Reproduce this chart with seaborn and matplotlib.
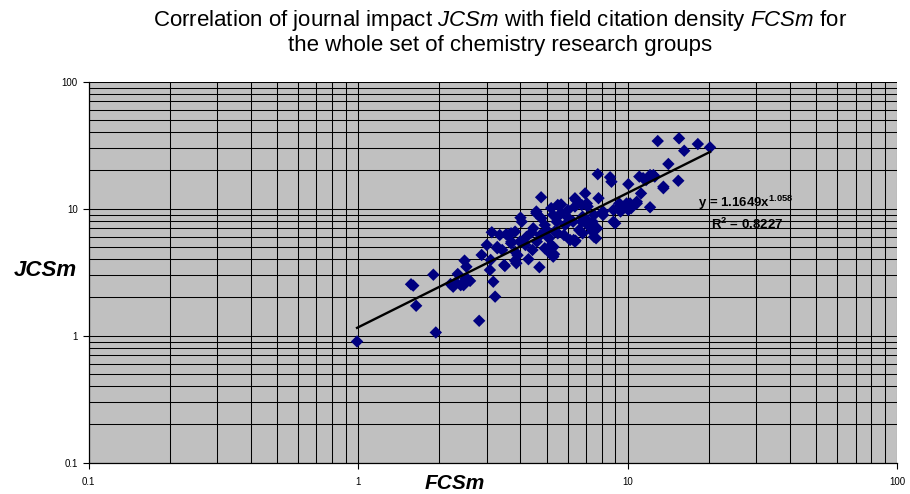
import matplotlib
matplotlib.use("Agg")
import matplotlib.pyplot as plt
import seaborn as sns
import numpy as np
import pandas as pd
from matplotlib.ticker import FixedLocator, LogLocator, NullFormatter

# ---------------- data ----------------
fcsm = [0.99, 1.57, 1.60, 1.64, 1.90, 1.94, 2.81, 2.48, 2.52, 2.34,
        2.25, 2.20, 2.30, 2.40, 2.50, 2.60, 2.46, 2.55, 3.00, 2.87,
        3.17, 3.22, 3.10, 3.08, 3.50, 3.82, 3.28, 3.69, 3.13, 3.54,
        3.48, 4.77, 4.28, 4.70, 4.04, 5.33, 6.11, 6.40, 5.66, 6.42,
        7.74, 8.60, 10.05, 11.04, 12.1, 12.6, 13.56, 14.15, 11.2, 10.8,
        12.1, 9.9, 9.3, 8.85, 8.01, 7.79, 6.95, 7.05, 8.98, 9.4,
        10.05, 10.2, 6.8, 7.14, 7.4, 7.63, 7.39, 6.6, 12.92, 15.5,
        16.2, 18.2, 20.2, 15.4, 11.4, 3.35, 3.60, 3.82, 3.70, 3.98,
        3.82, 4.17, 4.43, 4.21, 4.46, 4.58, 4.78, 4.92, 4.74, 5.10,
        4.92, 5.20, 5.35, 5.28, 5.50, 5.45, 5.20, 3.42, 3.86, 6.37,
        8.70, 5.65, 6.00, 6.37, 6.75, 7.10, 8.10, 7.50, 8.85, 6.27,
        6.75, 7.10, 5.85, 5.50, 6.37, 7.50, 7.70, 5.30, 6.80, 5.50,
        11.7, 10.8, 10.3, 9.5, 8.1, 7.05, 6.3, 5.15, 5.29, 3.28,
        3.69, 4.58, 4.00, 4.40, 5.00, 5.80, 6.00, 4.60, 3.90, 13.56,
        12.45]
jcsm = [0.90, 2.54, 2.48, 1.72, 3.02, 1.06, 1.31, 3.90, 3.49, 3.06,
        2.43, 2.55, 2.62, 2.50, 2.80, 2.70, 2.50, 2.78, 5.18, 4.32,
        2.66, 2.03, 3.95, 3.29, 3.54, 3.90, 4.88, 5.34, 6.52, 6.29,
        3.60, 12.3, 4.00, 3.46, 7.90, 4.38, 5.67, 5.60, 10.8, 11.7,
        18.7, 17.7, 15.6, 17.9, 18.4, 17.9, 14.9, 22.5, 13.2, 11.0,
        10.26, 11.0, 11.0, 9.77, 9.2, 12.1, 13.2, 11.0, 7.67, 9.5,
        9.77, 11.0, 8.65, 7.44, 7.9, 5.85, 6.6, 6.8, 34.1, 35.8,
        28.6, 32.3, 30.4, 16.6, 17.4, 6.21, 6.20, 6.60, 5.50, 5.50,
        4.58, 5.18, 4.73, 6.00, 7.01, 9.20, 8.40, 7.44, 6.20, 5.85,
        4.88, 5.18, 6.60, 8.93, 10.7, 7.90, 10.1, 4.73, 3.72, 12.08,
        16.3, 9.20, 9.77, 10.4, 10.7, 10.4, 9.50, 8.93, 7.90, 7.90,
        7.90, 7.44, 7.44, 6.40, 5.50, 6.00, 7.00, 5.00, 6.40, 8.65,
        16.8, 11.35, 10.1, 10.4, 8.93, 8.15, 5.67, 4.45, 4.19, 5.0,
        6.4, 9.5, 8.5, 6.5, 6.8, 6.2, 8.5, 5.5, 4.3, 14.5,
        18.4]

# power-law trend line as printed on the chart
trend_a = 1.1649
trend_b = 1.058
r_squared = 0.8227

tick_values = [0.1, 1, 10, 100]
tick_labels = ["0.1", "1", "10", "100"]

title_text = ("Correlation of journal impact $\\mathit{JCSm}$ with field citation density $\\mathit{FCSm}$ for\n"
              "the whole set of chemistry research groups")
x_label = "FCSm"
y_label = "JCSm"

# ---------------- style ----------------
plt.rcParams["font.family"] = ["Liberation Sans", "DejaVu Sans"]
plt.rcParams["mathtext.fontset"] = "custom"
plt.rcParams["mathtext.rm"] = "Liberation Sans"
plt.rcParams["mathtext.it"] = "Liberation Sans:italic"
plt.rcParams["mathtext.bf"] = "Liberation Sans:bold"
plt.rcParams["mathtext.default"] = "regular"

df = pd.DataFrame({"FCSm": fcsm, "JCSm": jcsm})
xs = np.array([min(fcsm), max(fcsm)])
line_df = pd.DataFrame({"x": xs, "y": trend_a * xs ** trend_b})

fig = plt.figure(figsize=(9.10, 4.94), dpi=100)
ax = fig.add_axes([0.0975, 0.0634, 0.8885, 0.7712])
ax.set_facecolor("#C0C0C0")

ax.set_xscale("log")
ax.set_yscale("log")
ax.set_xlim(0.1, 100)
ax.set_ylim(0.1, 100)

sns.scatterplot(data=df, x="FCSm", y="JCSm", marker="D", s=40,
                color="#000080", edgecolor="none", linewidth=0, ax=ax, zorder=3)
sns.lineplot(data=line_df, x="x", y="y", color="black", linewidth=1.7, ax=ax, zorder=4)

ax.set_axisbelow(True)
for axis in (ax.xaxis, ax.yaxis):
    axis.set_major_locator(FixedLocator(tick_values))
    axis.set_minor_locator(LogLocator(base=10, subs=np.arange(2, 10)))
    axis.set_minor_formatter(NullFormatter())
ax.set_xticklabels(tick_labels)
ax.set_yticklabels(tick_labels)
ax.grid(True, which="both", color="black", linewidth=0.75)
ax.tick_params(which="minor", length=0)
ax.tick_params(which="major", length=4, width=0.8, direction="out",
               labelsize=7, color="black")
ax.tick_params(axis="x", pad=6)
ax.tick_params(axis="y", pad=4)
for side in ["top", "right"]:
    ax.spines[side].set_visible(False)
for side in ["left", "bottom"]:
    ax.spines[side].set_color("black")
    ax.spines[side].set_linewidth(0.9)
ax.set_xlabel("")
ax.set_ylabel("")

fig.text(455 / 910, 1 - 483 / 494, x_label, ha="center", va="center",
         fontsize=15, fontweight="bold", fontstyle="italic")
fig.text(45 / 910, 1 - 271 / 494, y_label, ha="center", va="center",
         fontsize=16, fontweight="bold", fontstyle="italic")
fig.text(500 / 910, 1 - 32 / 494, title_text, ha="center", va="center",
         fontsize=16, linespacing=1.08)

ax.text(0.754, 0.671, f"y = {trend_a}x$^{{{trend_b}}}$", transform=ax.transAxes,
        fontsize=9.5, fontweight="bold", ha="left", va="baseline")
ax.text(0.770, 0.614, f"R$^{{2}}$ = {r_squared}", transform=ax.transAxes,
        fontsize=9.5, fontweight="bold", ha="left", va="baseline")

fig.savefig("out.png", dpi=100, facecolor="white")
